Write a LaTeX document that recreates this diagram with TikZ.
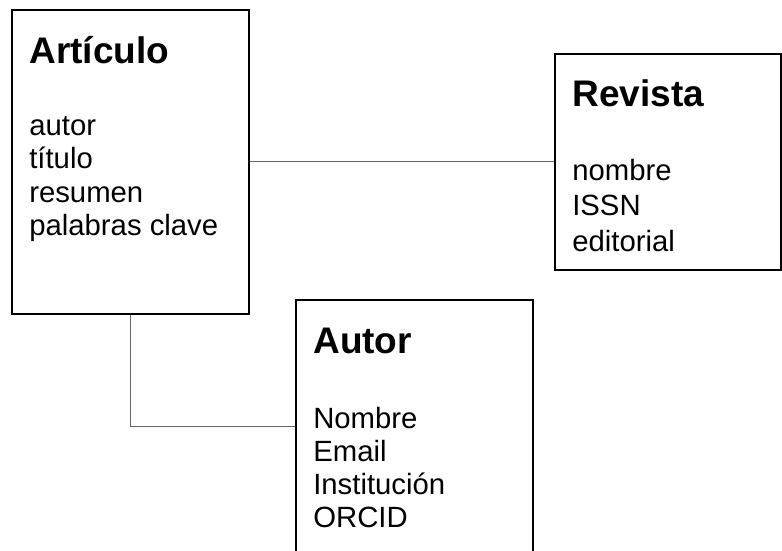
\documentclass[tikz,border=0pt]{standalone}
\usepackage{fontspec}
\setmainfont{Liberation Sans}

\begin{document}
\begin{tikzpicture}[
                x = 1pt, y = -1pt, % pixel units, y grows downwards
                semithick % line style
            ]

            \tikzstyle{entity}=[
            draw = black,
            line width = 1.6pt,
            rectangle,
            anchor = north west,
            inner sep = 0pt
            ]
            \tikzstyle{title}=[anchor = base west, inner sep = 0pt,
                font = \fontsize{37}{40}\selectfont\bfseries]
            \tikzstyle{field}=[anchor = base west, inner sep = 0pt,
                font = \fontsize{29.3}{33}\selectfont]
            \tikzstyle{link}=[draw = black!60, line width = 1.3pt]

            \clip (0,0) rectangle (782,550);

            % boxes
            \node[entity, minimum width = 237pt, minimum height = 304pt] (articulo) at (11,9) {};
            \node[entity, minimum width = 226pt, minimum height = 216pt] (revista) at (554,53) {};
            \node[entity, minimum width = 237pt, minimum height = 254pt] (autor) at (295,299) {};

            % titles
            \node[title] (articulo-t) at (29,63.3) {Artículo};
            \node[title] (revista-t) at (572,106.7) {Revista};
            \node[title] (autor-t) at (313,353.3) {Autor};

            % fields
            \foreach \f [count=\i] in {autor, título, resumen, palabras clave}
                \node[field] (articulo-\i) at (29,{101.5+33.5*\i}) {\f};
            \foreach \f [count=\i] in {nombre, ISSN, editorial}
                \node[field] (revista-\i) at (572,{144.5+35.5*\i}) {\f};
            \foreach \f [count=\i] in {Nombre, Email, Institución, ORCID}
                \node[field] (autor-\i) at (313,{395.5+32.9*\i}) {\f};

            % links
            \path[link] (articulo.east) -- (revista.west);
            \path[link] (articulo.south) |- (autor.west);
        \end{tikzpicture}
\end{document}
